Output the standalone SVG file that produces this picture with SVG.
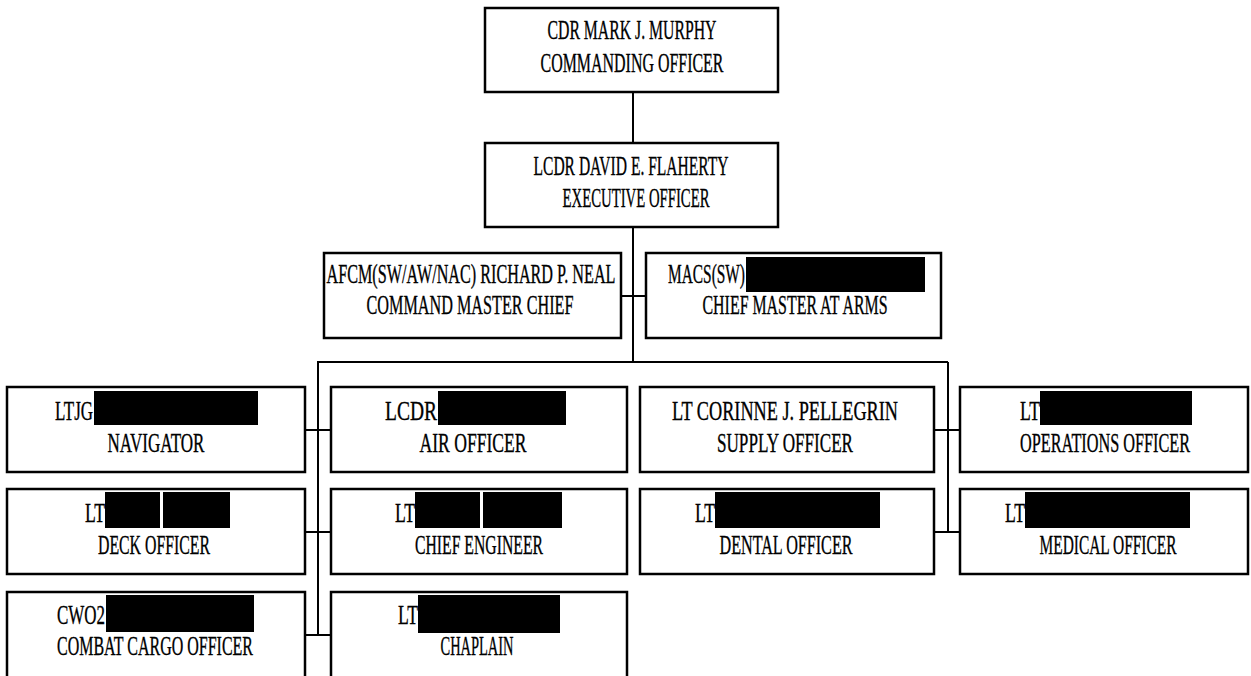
<svg xmlns="http://www.w3.org/2000/svg" width="1251" height="676" viewBox="0 0 1251 676">
<style>
  .box { fill: #fff; stroke: #000; stroke-width: 2.5; }
  .ln { stroke: #000; stroke-width: 2; fill: none; }
  .t { font-family: "Liberation Serif", "Times New Roman", serif; font-size: 27px; fill: #000; stroke: #000; stroke-width: 0.35; }
  .c { text-anchor: middle; }
  .red { fill: #000; }
</style>
<rect width="1251" height="676" fill="#fff"/>
<g id="connectors">
  <line class="ln" x1="633" y1="92" x2="633" y2="143"/>
  <line class="ln" x1="633" y1="227" x2="633" y2="362"/>
  <line class="ln" x1="621" y1="296" x2="646" y2="296"/>
  <line class="ln" x1="317" y1="362" x2="948" y2="362"/>
  <line class="ln" x1="318" y1="362" x2="318" y2="635"/>
  <line class="ln" x1="305" y1="430" x2="331" y2="430"/>
  <line class="ln" x1="305" y1="532" x2="331" y2="532"/>
  <line class="ln" x1="305" y1="635" x2="331" y2="635"/>
  <line class="ln" x1="948" y1="362" x2="948" y2="532"/>
  <line class="ln" x1="934" y1="430" x2="960" y2="430"/>
  <line class="ln" x1="934" y1="532" x2="960" y2="532"/>
</g>
<g id="co">
  <rect class="box" x="485" y="8" width="293" height="84"/>
  <text class="t c" x="632" y="39" textLength="169" lengthAdjust="spacingAndGlyphs">CDR MARK J. MURPHY</text>
  <text class="t c" x="632" y="72" textLength="183" lengthAdjust="spacingAndGlyphs">COMMANDING OFFICER</text>
</g>
<g id="xo">
  <rect class="box" x="485" y="143" width="293" height="84"/>
  <text class="t c" x="631" y="175" textLength="195" lengthAdjust="spacingAndGlyphs">LCDR DAVID E. FLAHERTY</text>
  <text class="t c" x="636" y="207" textLength="147" lengthAdjust="spacingAndGlyphs">EXECUTIVE OFFICER</text>
</g>
<g id="cmc">
  <rect class="box" x="324" y="253" width="297" height="85"/>
  <text class="t c" x="471" y="283" textLength="289" lengthAdjust="spacingAndGlyphs">AFCM(SW/AW/NAC) RICHARD P. NEAL</text>
  <text class="t c" x="470" y="314" textLength="207" lengthAdjust="spacingAndGlyphs">COMMAND MASTER CHIEF</text>
</g>
<g id="maa">
  <rect class="box" x="646" y="253" width="295" height="85"/>
  <text class="t" x="668" y="283" textLength="77" lengthAdjust="spacingAndGlyphs">MACS(SW)</text>
  <rect class="red" x="746" y="257" width="179" height="35"/>
  <text class="t c" x="795" y="314" textLength="185" lengthAdjust="spacingAndGlyphs">CHIEF MASTER AT ARMS</text>
</g>
<g id="navigator">
  <rect class="box" x="7" y="387" width="298" height="85"/>
  <text class="t" x="55" y="420" textLength="38" lengthAdjust="spacingAndGlyphs">LTJG</text>
  <rect class="red" x="94" y="391" width="164" height="34"/>
  <text class="t c" x="156" y="452" textLength="97" lengthAdjust="spacingAndGlyphs">NAVIGATOR</text>
</g>
<g id="air">
  <rect class="box" x="331" y="387" width="296" height="85"/>
  <text class="t" x="385" y="420" textLength="52" lengthAdjust="spacingAndGlyphs">LCDR</text>
  <rect class="red" x="438" y="391" width="128" height="34"/>
  <text class="t c" x="473" y="452" textLength="107" lengthAdjust="spacingAndGlyphs">AIR OFFICER</text>
</g>
<g id="supply">
  <rect class="box" x="640" y="387" width="294" height="85"/>
  <text class="t c" x="785" y="420" textLength="226" lengthAdjust="spacingAndGlyphs">LT CORINNE J. PELLEGRIN</text>
  <text class="t c" x="785" y="452" textLength="136" lengthAdjust="spacingAndGlyphs">SUPPLY OFFICER</text>
</g>
<g id="ops">
  <rect class="box" x="960" y="387" width="288" height="85"/>
  <text class="t" x="1020" y="420" textLength="20" lengthAdjust="spacingAndGlyphs">LT</text>
  <rect class="red" x="1040" y="391" width="152" height="34"/>
  <text class="t c" x="1105" y="452" textLength="170" lengthAdjust="spacingAndGlyphs">OPERATIONS OFFICER</text>
</g>
<g id="deck">
  <rect class="box" x="7" y="489" width="298" height="85"/>
  <text class="t" x="85" y="522" textLength="20" lengthAdjust="spacingAndGlyphs">LT</text>
  <rect class="red" x="105" y="492" width="55" height="36"/>
  <rect class="red" x="163" y="492" width="67" height="36"/>
  <text class="t c" x="154" y="554" textLength="112" lengthAdjust="spacingAndGlyphs">DECK OFFICER</text>
</g>
<g id="engineer">
  <rect class="box" x="331" y="489" width="296" height="85"/>
  <text class="t" x="395" y="522" textLength="20" lengthAdjust="spacingAndGlyphs">LT</text>
  <rect class="red" x="415" y="492" width="65" height="36"/>
  <rect class="red" x="483" y="492" width="79" height="36"/>
  <text class="t c" x="479" y="554" textLength="128" lengthAdjust="spacingAndGlyphs">CHIEF ENGINEER</text>
</g>
<g id="dental">
  <rect class="box" x="640" y="489" width="294" height="85"/>
  <text class="t" x="695" y="522" textLength="20" lengthAdjust="spacingAndGlyphs">LT</text>
  <rect class="red" x="715" y="492" width="165" height="36"/>
  <text class="t c" x="786" y="554" textLength="133" lengthAdjust="spacingAndGlyphs">DENTAL OFFICER</text>
</g>
<g id="medical">
  <rect class="box" x="960" y="489" width="288" height="85"/>
  <text class="t" x="1005" y="522" textLength="20" lengthAdjust="spacingAndGlyphs">LT</text>
  <rect class="red" x="1025" y="492" width="165" height="36"/>
  <text class="t c" x="1108" y="554" textLength="137" lengthAdjust="spacingAndGlyphs">MEDICAL OFFICER</text>
</g>
<g id="cargo">
  <rect class="box" x="7" y="592" width="298" height="88"/>
  <text class="t" x="57" y="624" textLength="48" lengthAdjust="spacingAndGlyphs">CWO2</text>
  <rect class="red" x="106" y="595" width="148" height="37"/>
  <text class="t c" x="155" y="655" textLength="196" lengthAdjust="spacingAndGlyphs">COMBAT CARGO OFFICER</text>
</g>
<g id="chaplain">
  <rect class="box" x="331" y="592" width="296" height="88"/>
  <text class="t" x="398" y="624" textLength="20" lengthAdjust="spacingAndGlyphs">LT</text>
  <rect class="red" x="418" y="595" width="142" height="38"/>
  <text class="t c" x="477" y="655" textLength="73" lengthAdjust="spacingAndGlyphs">CHAPLAIN</text>
</g>
</svg>
